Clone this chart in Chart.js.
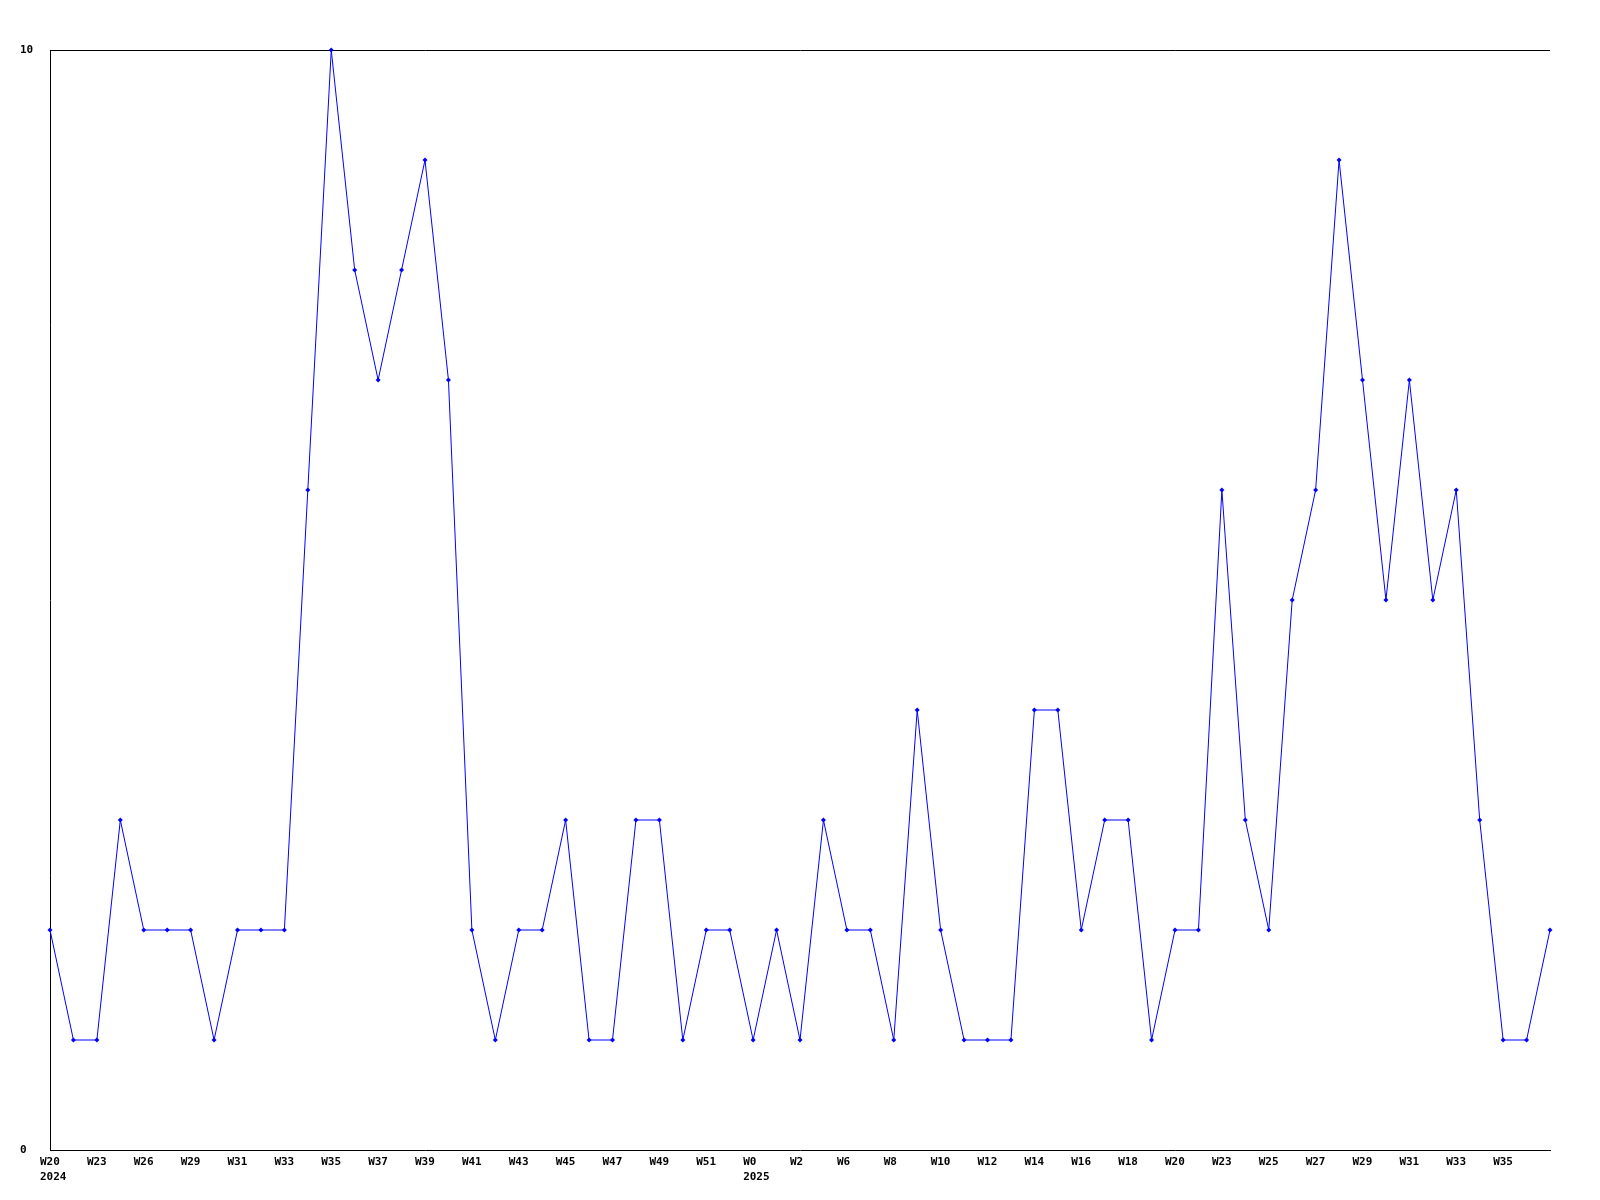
<!DOCTYPE html>
<html>
<head>
<meta charset="utf-8">
<script src="https://cdn.jsdelivr.net/npm/chart.js@4/dist/chart.umd.min.js"></script>
<style>
  body { margin: 0; background: #fff; }
  #wrap { width: 1600px; height: 1200px; }
</style>
</head>
<body>
<div id="wrap"><canvas id="weeklyChart" width="1600" height="1200"></canvas></div>
<script>
// weekly counts, one point per week (65 points)
const counts = [
  2, 1, 1, 3, 2, 2, 2, 1, 2, 2, 2, 6, 10, 8, 7, 8, 9, 7, 2, 1,
  2, 2, 3, 1, 1, 3, 3, 1, 2, 2, 1, 2, 1, 3, 2, 2, 1, 4, 2, 1,
  1, 1, 4, 4, 2, 3, 3, 1, 2, 2, 6, 3, 2, 5, 6, 9, 7, 5, 7, 5,
  6, 3, 1, 1, 2
]

// a label sits under every second point
const weekTicks = ['W20','W23','W26','W29','W31','W33','W35','W37','W39','W41','W43',
  'W45','W47','W49','W51','W0','W2','W6','W8','W10','W12','W14',
  'W16','W18','W20','W23','W25','W27','W29','W31','W33','W35']
const yearTicks = ['2024','','','','','','','','','','',
  '','','','','2025','','','','','','',
  '','','','','','','','','','']

const yMin = 0
const yMax = 10

const labelFont = { family: "'DejaVu Sans Mono', monospace", size: 11, weight: 'bold', lineHeight: 1.35 }

var ctx = document.getElementById('weeklyChart').getContext('2d');

var weeklyChart = new Chart(ctx, {
  type: 'line',
  data: {
    labels: counts.map((c, i) => i),
    datasets: [{
      data: counts,
      borderColor: '#0000ff',
      backgroundColor: '#0000ff',
      borderWidth: 1,
      tension: 0,
      fill: false,
      pointStyle: 'rectRot',
      pointRadius: 2.5,
      pointBorderWidth: 0,
      clip: false
    }]
  },
  options: {
    responsive: false,
    animation: false,
    layout: { padding: { left: 20, top: 50, right: 50, bottom: 0 } },
    plugins: {
      legend: { display: false },
      tooltip: { enabled: false }
    },
    scales: {
      x: {
        type: 'category',
        display: false
      },
      // label axis: same scale as the points, shifted so the text starts a bit left of each point
      wk: {
        type: 'linear',
        position: 'bottom',
        min: 10 / 23.4375,
        max: counts.length - 1 + 10 / 23.4375,
        grid: { display: false, drawTicks: false },
        border: { display: true, color: '#000', width: 1 },
        afterBuildTicks: (scale) => {
          scale.ticks = weekTicks.map((w, i) => ({ value: i * 2 }))
        },
        afterFit: (scale) => { scale.height = 50 },
        ticks: {
          autoSkip: false,
          maxRotation: 0,
          align: 'start',
          padding: 5,
          color: '#000',
          font: labelFont,
          callback: (value) => {
            const i = Math.round(value / 2)
            return yearTicks[i] ? [weekTicks[i], yearTicks[i]] : weekTicks[i]
          }
        }
      },
      y: {
        min: yMin,
        max: yMax,
        grid: {
          drawTicks: false,
          color: (c) => c.tick && c.tick.value === yMax ? '#000' : 'rgba(0,0,0,0)'
        },
        border: { display: true, color: '#000', width: 1 },
        afterFit: (scale) => { scale.width = 30 },
        ticks: {
          stepSize: 10,
          crossAlign: 'far',
          padding: 0,
          color: '#000',
          font: labelFont
        }
      }
    }
  }
});
</script>
</body>
</html>
